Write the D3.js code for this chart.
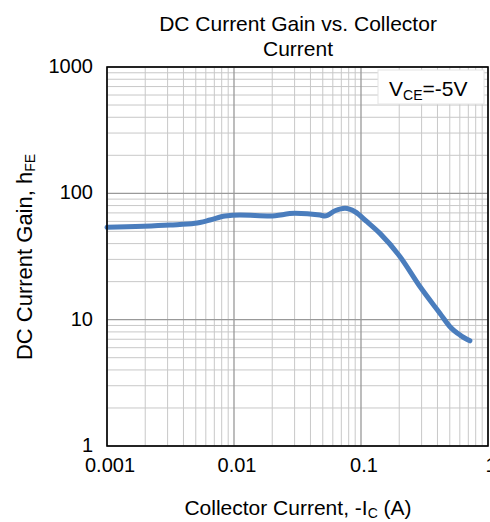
<!DOCTYPE html>
<html><head><meta charset="utf-8">
<script src="https://cdn.jsdelivr.net/npm/d3@7"></script>
<style>body{margin:0;background:#fff}svg{display:block}text{font-family:"Liberation Sans",Arial,sans-serif;fill:#000}</style>
</head><body><svg id="c" width="490" height="522"></svg>
<script>
const currentA = [0.001,0.00313,0.00493,0.00647,0.0085,0.01114,0.0192,0.0302,0.0475,0.052,0.0624,0.0748,0.0897,0.1114,0.141,0.203,0.292,0.419,0.502,0.603,0.72];
const gainHFE  = [53.8,56.1,57.9,61.5,66.1,67.3,66.1,69.5,67.3,66.1,72.8,76.1,71.5,59.6,48.2,31.5,18.2,11.2,8.8,7.55,6.8];
const xTickLabels = ["0.001","0.01","0.1","1"];
const yTickLabels = ["1","10","100","1000"];
const titleLines = ["DC Current Gain vs. Collector","Current"];

const svg = d3.select("#c");
const L=107,R=488,T=67,B=446;
const x = d3.scaleLog().domain([0.001,1]).range([L,R]);
const y = d3.scaleLog().domain([1,1000]).range([B,T]);

// grid
const minorX=[],minorY=[];
for(let d=0.001; d<1; d*=10){for(let k=2;k<=9;k++)minorX.push(d*k);}
for(let d=1; d<1000; d*=10){for(let k=2;k<=9;k++)minorY.push(d*k);}
const g=svg.append("g");
g.selectAll(".mx").data(minorX).enter().append("line")
 .attr("x1",d=>x(d)).attr("x2",d=>x(d)).attr("y1",T).attr("y2",B).attr("stroke","#c8c8c8").attr("stroke-width",1);
g.selectAll(".my").data(minorY).enter().append("line")
 .attr("y1",d=>y(d)).attr("y2",d=>y(d)).attr("x1",L).attr("x2",R).attr("stroke","#c8c8c8").attr("stroke-width",1);
g.selectAll(".Mx").data(xTickLabels.map(Number)).enter().append("line")
 .attr("x1",d=>x(d)).attr("x2",d=>x(d)).attr("y1",T).attr("y2",B).attr("stroke","#999").attr("stroke-width",1.3);
g.selectAll(".My").data(yTickLabels.map(Number)).enter().append("line")
 .attr("y1",d=>y(d)).attr("y2",d=>y(d)).attr("x1",L).attr("x2",R).attr("stroke","#999").attr("stroke-width",1.3);

// legend box
svg.append("rect").attr("x",378).attr("y",70).attr("width",106).attr("height",34).attr("fill","#fff").attr("stroke","#e4e4e4");
const lt=svg.append("text").attr("x",389).attr("y",96).attr("font-size",21);
lt.append("tspan").text("V");
lt.append("tspan").attr("font-size",14).attr("dy",4).text("CE");
lt.append("tspan").attr("dy",-4).text("=-5V");

// curve
const line=d3.line().x(d=>x(d[0])).y(d=>y(d[1])).curve(d3.curveMonotoneX);
svg.append("path").datum(currentA.map((c,i)=>[c,gainHFE[i]]))
 .attr("d",line).attr("fill","none").attr("stroke","#4a7dbd").attr("stroke-width",5).attr("stroke-linecap","round").attr("stroke-linejoin","round");

// frame
svg.append("rect").attr("x",L).attr("y",T).attr("width",R-L).attr("height",B-T).attr("fill","none").attr("stroke","#000").attr("stroke-width",1.6);

// tick labels
svg.selectAll(".yl").data(yTickLabels).enter().append("text")
 .attr("x",93).attr("y",d=>y(+d)+6).attr("text-anchor","end").attr("font-size",20).text(d=>d);
svg.selectAll(".xl").data(xTickLabels).enter().append("text")
 .attr("x",d=>x(+d)+3).attr("y",472).attr("text-anchor","middle").attr("font-size",20).text(d=>d);

// title
svg.selectAll(".tt").data(titleLines).enter().append("text")
 .attr("x",298).attr("y",(d,i)=>31+i*25).attr("text-anchor","middle").attr("font-size",21).text(d=>d);

// x title
const xt=svg.append("text").attr("x",298).attr("y",515).attr("text-anchor","middle").attr("font-size",21);
xt.append("tspan").text("Collector Current, -I");
xt.append("tspan").attr("font-size",14).attr("dy",3).text("C");
xt.append("tspan").attr("dy",-3).text(" (A)");

// y title
const yt=svg.append("text").attr("transform","translate(32,257) rotate(-90)").attr("text-anchor","middle").attr("font-size",22);
yt.append("tspan").text("DC Current Gain, h");
yt.append("tspan").attr("font-size",14).attr("dy",3).text("FE");
</script></body></html>
